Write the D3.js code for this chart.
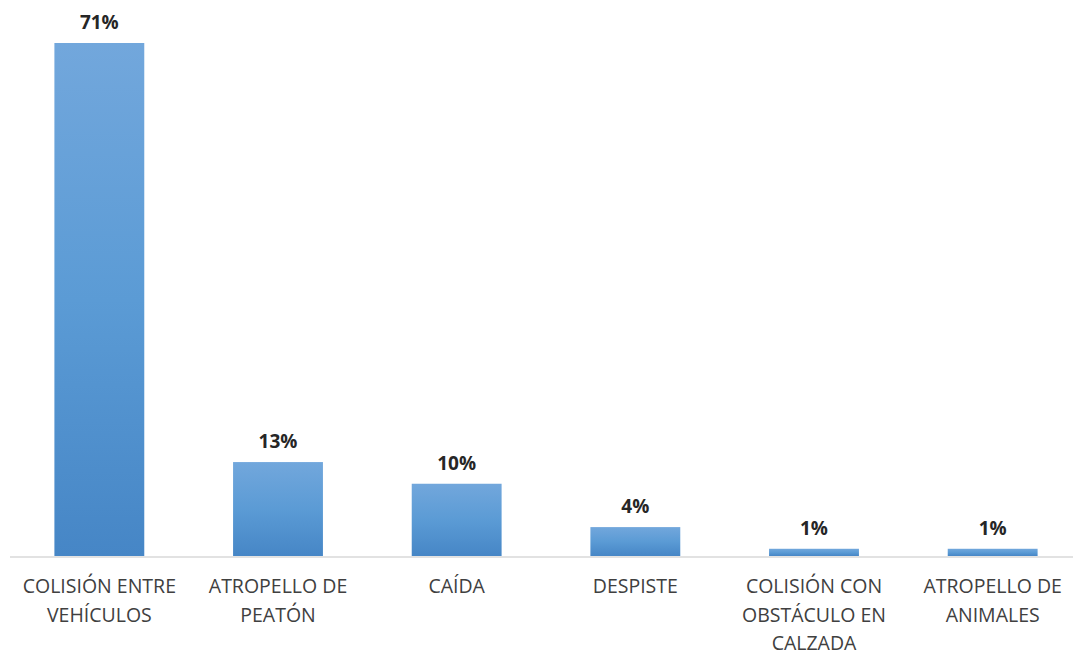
<!DOCTYPE html>
<html>
<head>
<meta charset="utf-8">
<script src="https://cdn.jsdelivr.net/npm/d3@7"></script>
<style>
  body { margin: 0; background: #fff; }
  svg { display: block; }
  .cat text { font-family: "Open Sans", Roboto, sans-serif; font-size: 19.5px; fill: #404040; }
  .val { font-family: "Open Sans", Roboto, sans-serif; font-size: 19px; font-weight: bold; fill: #262626; }
</style>
</head>
<body>
<div id="chart"></div>
<script>
// data
var categories = ["COLISIÓN ENTRE VEHÍCULOS", "ATROPELLO DE PEATÓN", "CAÍDA", "DESPISTE",
  "COLISIÓN CON OBSTÁCULO EN CALZADA", "ATROPELLO DE ANIMALES"];
var labelLines = [
  ["COLISIÓN ENTRE", "VEHÍCULOS"],
  ["ATROPELLO DE", "PEATÓN"],
  ["CAÍDA"],
  ["DESPISTE"],
  ["COLISIÓN CON", "OBSTÁCULO EN", "CALZADA"],
  ["ATROPELLO DE", "ANIMALES"]
];
var values = [71, 13, 10, 4, 1, 1];

var width = 1073, height = 656;
var margin = {top: 43, right: -9, bottom: 100, left: 10};
var innerW = width - margin.left - margin.right,
  innerH = height - margin.top - margin.bottom;

var svg = d3.select("#chart").append("svg")
  .attr("width", width)
  .attr("height", height);

var defs = svg.append("defs");
var grad = defs.append("linearGradient")
  .attr("id", "barGrad")
  .attr("x1", 0).attr("y1", 0).attr("x2", 0).attr("y2", 1);
grad.append("stop").attr("offset", "0%").attr("stop-color", "#72a7dc");
grad.append("stop").attr("offset", "50%").attr("stop-color", "#5b9bd5");
grad.append("stop").attr("offset", "100%").attr("stop-color", "#4686c6");

var g = svg.append("g").attr("transform", "translate(" + margin.left + "," + margin.top + ")");

var x = d3.scaleBand()
  .domain(categories)
  .range([0, innerW])
  .paddingInner(0.497)
  .paddingOuter(0.2485);

var y = d3.scaleLinear()
  .domain([0, 71])
  .range([innerH, 0]);

// bars
g.selectAll("rect.bar")
  .data(values)
  .enter().append("rect")
  .attr("class", "bar")
  .attr("x", function(d, i) { return x(categories[i]); })
  .attr("y", function(d) { return y(d); })
  .attr("width", x.bandwidth())
  .attr("height", function(d) { return innerH - y(d); })
  .style("fill", "url(#barGrad)");

// baseline
g.append("line")
  .attr("x1", 0)
  .attr("x2", width - margin.left)
  .attr("y1", innerH + 1)
  .attr("y2", innerH + 1)
  .style("stroke", "#d9d9d9")
  .style("stroke-width", 1.5);

// value labels
g.selectAll("text.val")
  .data(values)
  .enter().append("text")
  .attr("class", "val")
  .attr("text-anchor", "middle")
  .attr("x", function(d, i) { return x(categories[i]) + x.bandwidth() / 2; })
  .attr("y", function(d) { return y(d) - 14; })
  .text(function(d) { return d + "%"; });

// category labels
var cat = g.selectAll("g.cat")
  .data(categories)
  .enter().append("g")
  .attr("class", "cat")
  .attr("transform", function(d) {
    return "translate(" + (x(d) + x.bandwidth() / 2) + "," + (innerH + 37) + ")";
  });

cat.each(function(d, i) {
  var t = d3.select(this).append("text").attr("text-anchor", "middle");
  labelLines[i].forEach(function(line, j) {
    t.append("tspan")
      .attr("x", 0)
      .attr("y", j * 28.5)
      .text(line);
  });
});
</script>
</body>
</html>
